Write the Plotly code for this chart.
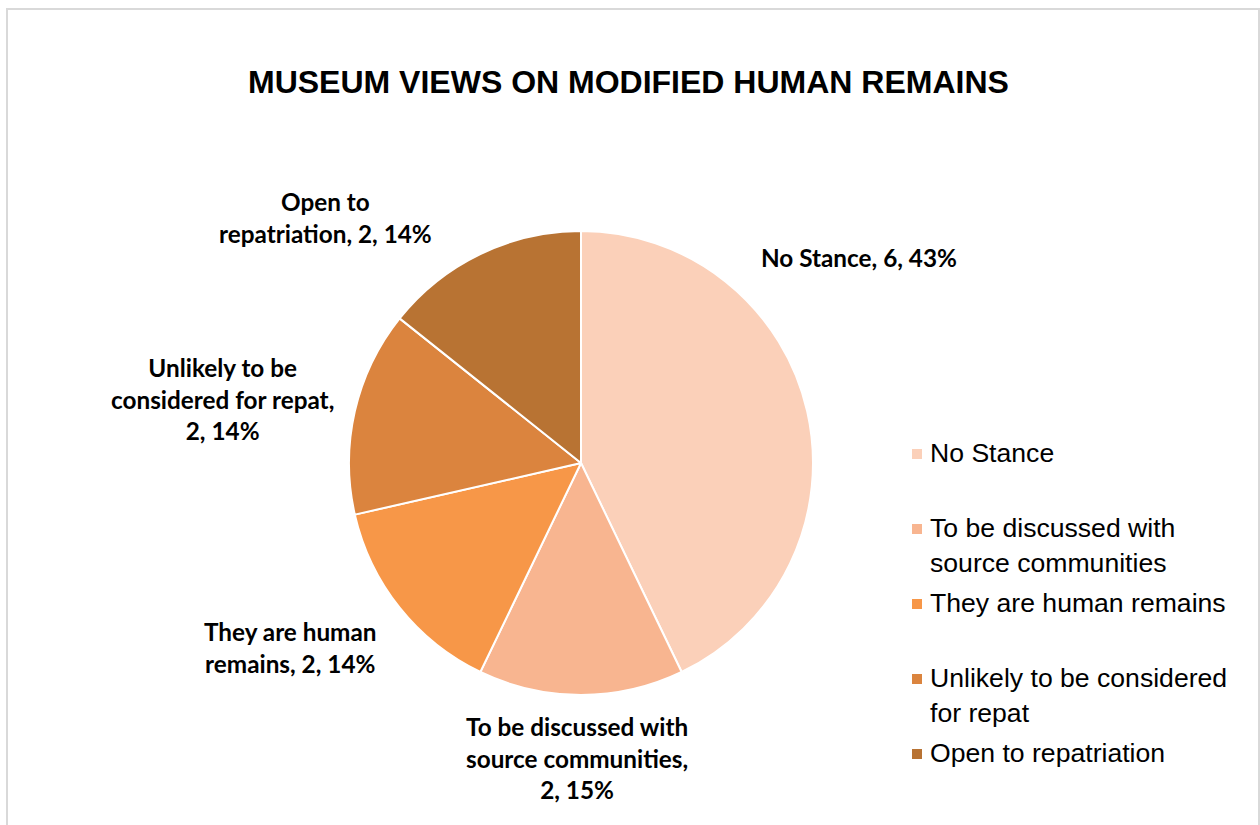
import plotly.graph_objects as go

# Survey answers: how museums regard modified human remains
categories = [
    "No Stance",
    "To be discussed with source communities",
    "They are human remains",
    "Unlikely to be considered for repat",
    "Open to repatriation",
]
counts = [6, 2, 2, 2, 2]
percent_labels = ["43%", "15%", "14%", "14%", "14%"]

# Wrapped forms of the category names used in the slice labels and the legend
label_wrapped = [
    "No Stance",
    "To be discussed with<br>source communities",
    "They are human<br>remains",
    "Unlikely to be<br>considered for repat",
    "Open to<br>repatriation",
]
label_value_sep = [", ", ",<br>", ", ", ",<br>", ", "]
legend_wrapped = [
    "No Stance",
    "To be discussed with<br>source communities",
    "They are human remains",
    "Unlikely to be considered<br>for repat",
    "Open to repatriation",
]

colors = ["#FBD0B9", "#F8B590", "#F79748", "#DB843E", "#B87333"]

W, H = 1260, 825


def px(x):
    return x / W


def py(y):
    return 1 - y / H


# Pie geometry (pixels): centre and radius
cx, cy, r = 581, 463, 232

fig = go.Figure()
fig.add_trace(go.Pie(
    labels=categories,
    values=counts,
    sort=False,
    direction="clockwise",
    rotation=0,
    marker=dict(colors=colors, line=dict(color="white", width=2)),
    textinfo="none",
    hoverinfo="label+value+percent",
    showlegend=False,
    domain=dict(x=[px(cx - r), px(cx + r)], y=[py(cy + r), py(cy - r)]),
))

annotations = []

# Title
annotations.append(dict(
    text="<b>MUSEUM VIEWS ON MODIFIED HUMAN REMAINS</b>",
    x=px(628), y=py(82), xref="paper", yref="paper",
    xanchor="center", yanchor="middle", showarrow=False,
    font=dict(family="Liberation Sans, Arial", size=32, color="#000000"),
))

# Data labels: name, value, percentage
label_pos = [(859, 257), (577, 758), (290, 647), (222, 399), (325, 218)]
for name, sep, v, p, (lx, ly) in zip(label_wrapped, label_value_sep, counts, percent_labels, label_pos):
    annotations.append(dict(
        text=f"<b>{name}{sep}{v}, {p}</b>",
        x=px(lx), y=py(ly), xref="paper", yref="paper",
        xanchor="center", yanchor="middle", showarrow=False, align="center",
        font=dict(family="Lato, Carlito, Calibri", size=24.3, color="#000000"),
    ))

# Legend: colour swatches with their category names
legend_rows = [454, 529, 604, 679, 754]
legend_font = 26.6
shapes = []
for name, col, ry in zip(legend_wrapped, colors, legend_rows):
    shapes.append(dict(
        type="rect", xref="paper", yref="paper",
        x0=px(912), x1=px(922), y0=py(ry + 5), y1=py(ry - 5),
        fillcolor=col, line=dict(width=0),
    ))
    annotations.append(dict(
        text=name,
        x=px(928), y=py(ry - legend_font * 1.3 / 2 - 1), xref="paper", yref="paper",
        xanchor="left", yanchor="top", showarrow=False, align="left",
        font=dict(family="Liberation Sans, Arial", size=legend_font, color="#000000"),
    ))

# Chart-area border
shapes.append(dict(
    type="rect", xref="paper", yref="paper",
    x0=px(7), x1=px(1259), y0=py(835), y1=py(9),
    line=dict(color="#D9D9D9", width=2), fillcolor="rgba(0,0,0,0)",
))

fig.update_layout(
    width=W, height=H,
    margin=dict(l=0, r=0, t=0, b=0),
    paper_bgcolor="white",
    plot_bgcolor="white",
    annotations=annotations,
    shapes=shapes,
)

fig.write_html("out.html")
